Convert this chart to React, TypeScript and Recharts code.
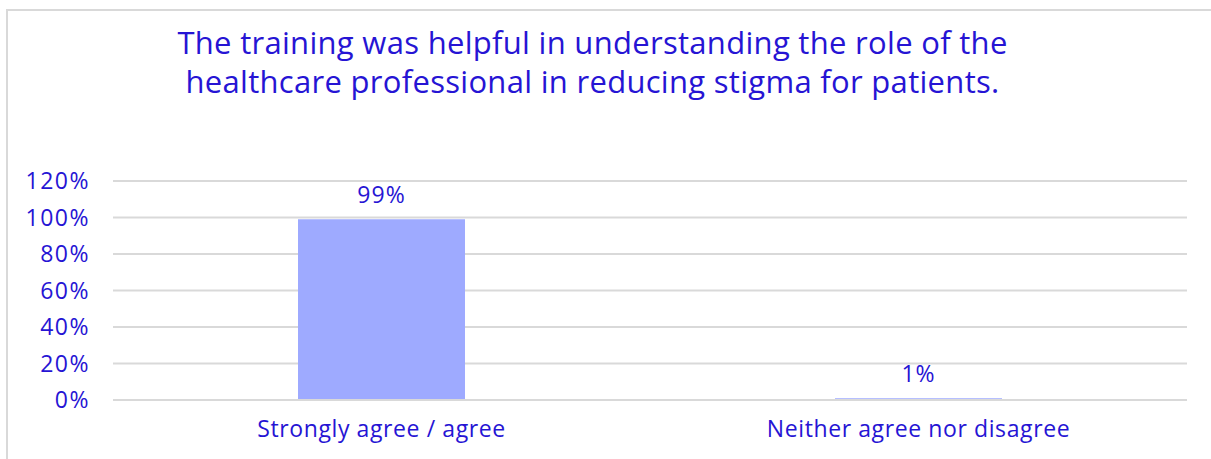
import { Bar, BarChart, CartesianGrid, LabelList, XAxis, YAxis } from "recharts";

const categories = ["Strongly agree / agree", "Neither agree nor disagree"];
const percentValues = [99, 1];
const yTicks = [0, 20, 40, 60, 80, 100, 120];
const titleLines = [
  "The training was helpful in understanding the role of the",
  "healthcare professional in reducing stigma for patients.",
];

const data = categories.map((name, i) => ({ name, value: percentValues[i] }));

const textColor = "#2614d4";
const fontFamily = "'Open Sans', Lato, sans-serif";

export default function App() {
  return (
    <div style={{ position: "absolute", left: 0, top: 0, width: 1211, height: 459, overflow: "hidden", background: "#fff", fontFamily }}>
      <div
        style={{
          position: "absolute",
          left: 6,
          top: 9,
          width: 1230,
          height: 480,
          border: "2px solid #d9d9d9",
          boxSizing: "border-box",
        }}
      />
      <div
        style={{
          position: "absolute",
          left: 0,
          width: 1185,
          top: 23,
          textAlign: "center",
          color: textColor,
          fontSize: 31,
          letterSpacing: 0.3,
          lineHeight: "39px",
        }}
      >
        {titleLines.map((t) => (
          <div key={t}>{t}</div>
        ))}
      </div>
      <div style={{ position: "absolute", left: 0, top: 0 }}>
        <BarChart
          width={1211}
          height={459}
          data={data}
          margin={{ top: 181, right: 24, bottom: 0, left: 0 }}
        >
          <CartesianGrid vertical={false} stroke="#d9d9d9" strokeWidth={2} />
          <XAxis
            dataKey="name"
            axisLine={{ stroke: "#d9d9d9", strokeWidth: 2 }}
            tickLine={false}
            tickSize={0}
            tickMargin={21}
            tick={{ fill: textColor, fontSize: 23, fontFamily, letterSpacing: 0.6 }}
            height={59}
          />
          <YAxis
            domain={[0, 120]}
            ticks={yTicks}
            interval={0}
            axisLine={false}
            tickLine={false}
            tickSize={0}
            tickMargin={23}
            width={113}
            tickFormatter={(v) => `${v}%`}
            tick={{ fill: textColor, fontSize: 23, fontFamily, letterSpacing: 1.5 }}
          />
          <Bar dataKey="value" fill="#9eaaff" barSize={167} isAnimationActive={false}>
            <LabelList
              dataKey="value"
              position="top"
              offset={16}
              formatter={(v) => `${v}%`}
              style={{ fill: textColor, fontSize: 23, fontFamily, letterSpacing: 1 }}
            />
          </Bar>
        </BarChart>
      </div>
    </div>
  );
}
